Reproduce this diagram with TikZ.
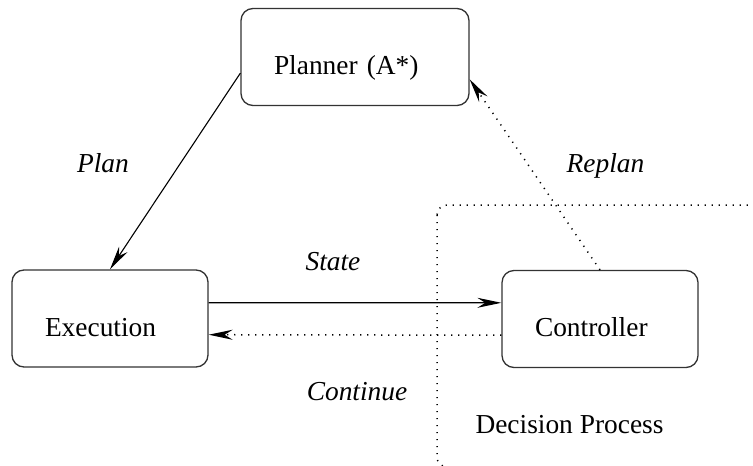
\documentclass[tikz,border=0pt]{standalone}
\usepackage{fontspec}
\setmainfont{Liberation Serif}
\usetikzlibrary{arrows.meta}
\begin{document}
\begin{tikzpicture}[x=0.5pt,y=-0.5pt,
  txt/.style={font=\fontsize{13.7pt}{16pt}\selectfont},
  box/.style={txt, draw=black!80, line width=0.65pt, rounded corners=6pt,
    inner xsep=16.5pt, inner ysep=0pt, minimum height=48.5pt, align=left,
    text height=17.5pt, text depth=0pt},
  lbl/.style={txt, anchor=base, inner sep=0pt},
  elbl/.style={lbl, font=\fontsize{13.7pt}{16pt}\selectfont\itshape},
  conn/.style={line width=0.55pt, -{Stealth[length=12pt,width=5pt,inset=4pt]}},
  dots/.style={line width=0.75pt, dash pattern=on 0.6pt off 2.9pt}
]
\useasboundingbox (0,0) rectangle (753,465);
\begin{scope}
  \clip (0,0) rectangle (753,465);
  \draw[dots, rounded corners=5pt] (437,205) rectangle (790,467);
\end{scope}
\node[box, text width=81pt] (planner) at (355,57) {Planner (A*)};
\node[box, text width=65pt] (execution) at (110,318.5) {Execution};
\node[box, text width=65pt] (controller) at (600,319) {Controller};
\draw[conn] (planner.188.5) -- (execution.north);
\draw[conn, dots] (controller.north) -- (planner.349);
\draw[conn] ([yshift=7.9pt]execution.east) -- ([yshift=8.1pt]controller.west);
\draw[conn, dots] ([yshift=-8.1pt]controller.west) -- ([yshift=-8.1pt]execution.east);
\node[elbl] (plan) at (103,172) {Plan};
\node[elbl] (replan) at (605.5,172) {Replan};
\node[elbl] (state) at (333,270) {State};
\node[elbl] (continue) at (357,400) {Continue};
\node[lbl] (decision) at (569.5,433) {Decision Process};
\end{tikzpicture}
\end{document}
